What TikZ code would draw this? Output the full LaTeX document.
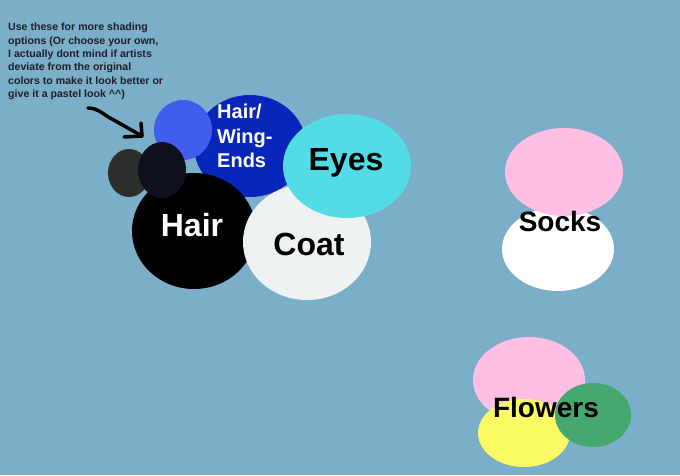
\documentclass[tikz,border=0pt]{standalone}
\usepackage{xcolor}
\usepackage{fontspec}
\setmainfont{Liberation Sans}
\usepackage{tikz}
\definecolor{bgblue}{RGB}{123,174,200}
\definecolor{wingblue}{RGB}{8,38,186}
\definecolor{lightwing}{RGB}{66,92,238}
\definecolor{darkgrey}{RGB}{45,47,45}
\definecolor{navyblack}{RGB}{15,17,30}
\definecolor{eyecyan}{RGB}{84,220,230}
\definecolor{coatwhite}{RGB}{238,242,243}
\definecolor{sockpink}{RGB}{255,190,228}
\definecolor{flowyellow}{RGB}{250,250,100}
\definecolor{flowgreen}{RGB}{70,168,112}
\definecolor{notetext}{RGB}{30,30,40}

\begin{document}
\begin{tikzpicture}[x=1pt,y=-1pt]
    \useasboundingbox (0,0) rectangle (680,475);
    \fill[bgblue] (0,0) rectangle (680,475);
    % Hair and wing colours
    \fill[wingblue] (250,146) ellipse (56 and 51);
    \fill[lightwing] (183,130) ellipse (29 and 30);
    \fill[black] (194,231) ellipse (62 and 58);
    \fill[darkgrey] (129,173) ellipse (21 and 24);
    \fill[navyblack] (162,170) ellipse (24 and 28);
    \fill[coatwhite] (307,242) ellipse (64 and 58);
    \fill[eyecyan] (347,166) ellipse (64 and 52);
    % Socks
    \fill[white] (558,249) ellipse (56 and 42);
    \fill[sockpink] (564,172) ellipse (59 and 44);
    % Flowers
    \fill[sockpink] (529,380) ellipse (56 and 43);
    \fill[flowyellow] (524,433) ellipse (46 and 34);
    \fill[flowgreen] (593,415) ellipse (38 and 32);
    % Hand drawn arrow
    \draw[line width=3.5pt,line cap=round,line join=round]
      (88,108) .. controls (98,108) and (104,115) .. (112,119)
      -- (142,136) -- (141,123);
    \draw[line width=3.5pt,line cap=round] (142,136) -- (124,137);
    % Labels
    \node[anchor=north west,align=left,text=notetext,font=\bfseries\fontsize{10.6}{13.3}\selectfont,inner sep=0pt] (note) at (8,23)
      {Use these for more shading\\options (Or choose your own,\\I actually dont mind if artists\\deviate from the original\\colors to make it look better or\\give it a pastel look \^{}\^{})};
    \node[anchor=north west,align=left,text=white,font=\bfseries\fontsize{20}{24.5}\selectfont,inner sep=0pt] (wings) at (217,104) {Hair/\\Wing-\\Ends};
    \node[text=white,font=\bfseries\fontsize{32}{36}\selectfont] (hair) at (192,225) {Hair};
    \node[text=black,font=\bfseries\fontsize{32}{36}\selectfont] (coat) at (309,244) {Coat};
    \node[text=black,font=\bfseries\fontsize{32}{36}\selectfont] (eyes) at (346,163) {Eyes};
    \node[text=black,font=\bfseries\fontsize{28}{32}\selectfont] (socks) at (560,221) {Socks};
    \node[text=black,font=\bfseries\fontsize{28}{32}\selectfont] (flowers) at (546,407) {Flowers};
\end{tikzpicture}
\end{document}
